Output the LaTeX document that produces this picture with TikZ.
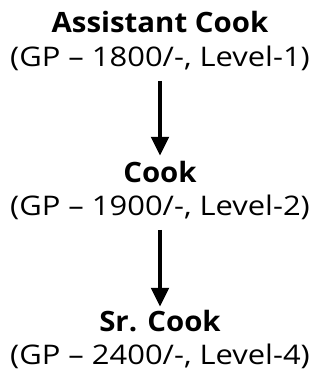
\documentclass[tikz,border=0pt]{standalone}
\usepackage{fontspec}
\usepackage{graphicx}
\setmainfont{Open Sans}
\usetikzlibrary{arrows.meta}
\tikzset{
  title/.style={anchor=base, inner sep=0pt, font=\fontsize{28}{31}\selectfont\bfseries},
  detail/.style={anchor=base, inner sep=0pt, font=\fontsize{27}{30}\selectfont},
  promote/.style={line width=4.8pt, draw=black, -{Triangle[width=17pt,length=19pt]}}
}
\newcommand{\tline}[1]{\scalebox{1.05}[1]{#1}}
\newcommand{\dline}[1]{\scalebox{1.145}[1]{#1}}
\begin{document}
\begin{tikzpicture}[x=1pt,y=1pt]
\useasboundingbox (0,0) rectangle (320,378);
\node[title]  (b1) at (160,345) {\tline{Assistant Cook}};
\node[detail] (r1) at (160,311) {\dline{(GP – 1800/-, Level-1)}};
\node[title]  (b2) at (160,195) {\tline{Cook}};
\node[detail] (r2) at (160,162) {\dline{(GP – 1900/-, Level-2)}};
\node[title]  (b3) at (160,46)  {\tline{Sr. Cook}};
\node[detail] (r3) at (160,13)  {\dline{(GP – 2400/-, Level-4)}};
\draw[promote, shorten <=9.5pt, shorten >=5.7pt] (r1.south) -- (b2.north);
\draw[promote, shorten <=9.5pt, shorten >=3.7pt] (r2.south) -- (b3.north);
\end{tikzpicture}
\end{document}
